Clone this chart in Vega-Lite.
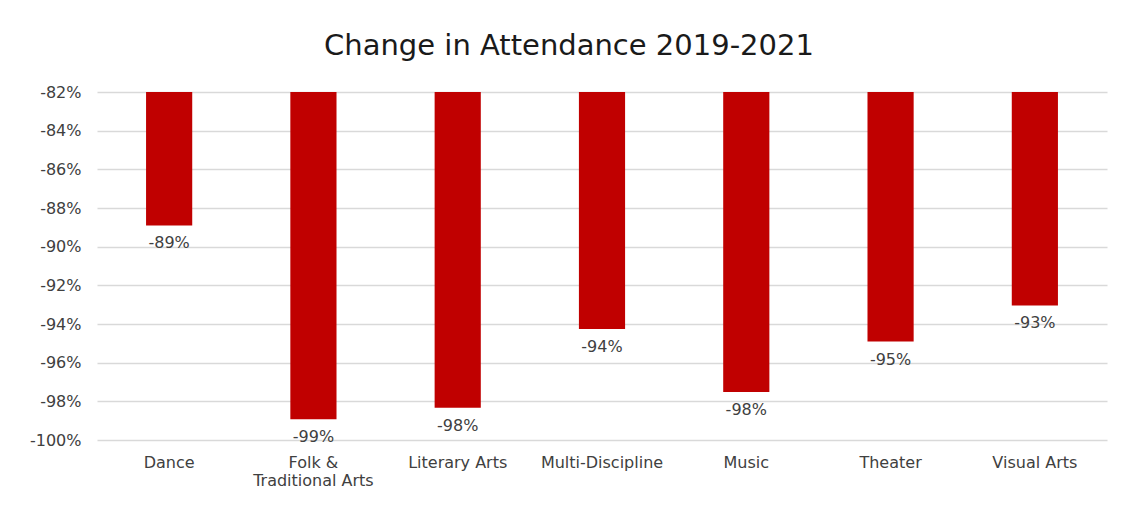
{
  "$schema": "https://vega.github.io/schema/vega-lite/v6.json",
  "autosize": {"type": "none"},
  "width": 1010,
  "height": 348,
  "padding": {"left": 97, "top": 92, "right": 14, "bottom": 70},
  "background": "white",
  "title": {
    "text": "Change in Attendance 2019-2021",
    "font": "DejaVu Sans",
    "fontSize": 29,
    "fontWeight": "normal",
    "color": "#1a1a1a",
    "anchor": "middle",
    "frame": "group",
    "dx": -33,
    "offset": 23
  },
  "data": {
    "values": [
      {"category": "Dance", "change": -0.889},
      {"category": "Folk & Traditional Arts", "change": -0.9893},
      {"category": "Literary Arts", "change": -0.9833},
      {"category": "Multi-Discipline", "change": -0.9426},
      {"category": "Music", "change": -0.9752},
      {"category": "Theater", "change": -0.9491},
      {"category": "Visual Arts", "change": -0.9304}
    ]
  },
  "encoding": {
    "x": {
      "field": "category",
      "type": "nominal",
      "sort": null,
      "scale": {"paddingInner": 0.68, "paddingOuter": 0.34},
      "axis": {
        "title": null,
        "labelAngle": 0,
        "labelFont": "DejaVu Sans",
        "labelFontSize": 16,
        "labelColor": "#404040",
        "labelPadding": 14,
        "labelOverlap": false,
        "domain": false,
        "ticks": false,
        "labelExpr": "datum.label == 'Folk & Traditional Arts' ? ['Folk &', 'Traditional Arts'] : datum.label"
      }
    },
    "y": {
      "field": "change",
      "type": "quantitative",
      "scale": {"domain": [-1.0, -0.82], "nice": false, "zero": false},
      "axis": {
        "title": null,
        "values": [-1.0, -0.98, -0.96, -0.94, -0.92, -0.9, -0.88, -0.86, -0.84, -0.82],
        "labelExpr": "replace(format(datum.value, '.0%'), '\u2212', '-')",
        "labelFont": "DejaVu Sans",
        "labelFontSize": 16,
        "labelColor": "#404040",
        "labelPadding": 16,
        "labelOverlap": false,
        "labelBound": false,
        "domain": false,
        "ticks": false,
        "gridColor": "#d9d9d9",
        "gridWidth": 1.5
      }
    }
  },
  "layer": [
    {
      "mark": {"type": "bar", "color": "#C00000"},
      "encoding": {
        "y2": {"datum": -0.82}
      }
    },
    {
      "transform": [
        {"calculate": "replace(format(datum.change, '.0%'), '\u2212', '-')", "as": "label"}
      ],
      "mark": {
        "type": "text",
        "baseline": "top",
        "dy": 10,
        "font": "DejaVu Sans",
        "fontSize": 16,
        "color": "#404040"
      },
      "encoding": {
        "text": {"field": "label", "type": "nominal"}
      }
    }
  ],
  "config": {"view": {"stroke": null}}
}
